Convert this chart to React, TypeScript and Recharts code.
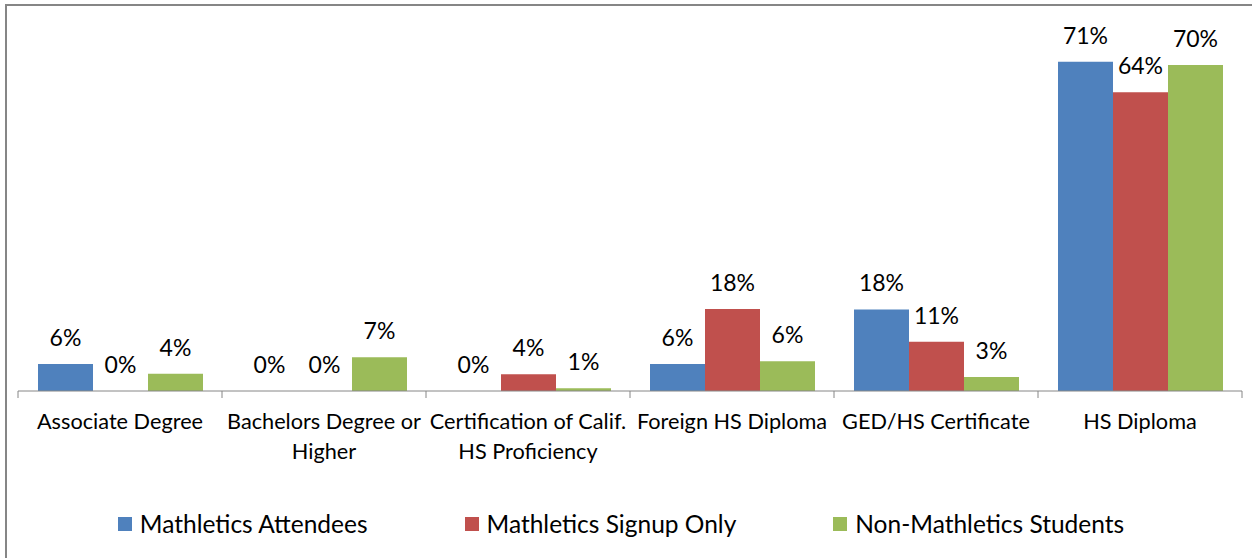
import React from "react";
import { BarChart, Bar, XAxis, YAxis, LabelList, Legend } from "recharts";

const categories = [
  "Associate Degree",
  "Bachelors Degree or Higher",
  "Certification of Calif. HS Proficiency",
  "Foreign HS Diploma",
  "GED/HS Certificate",
  "HS Diploma",
];

const tickLabelLines: string[][] = [
  ["Associate Degree"],
  ["Bachelors Degree or", "Higher"],
  ["Certification of Calif.", "HS Proficiency"],
  ["Foreign HS Diploma"],
  ["GED/HS Certificate"],
  ["HS Diploma"],
];

const seriesNames = ["Mathletics Attendees", "Mathletics Signup Only", "Non-Mathletics Students"];
const seriesColors = ["#4F81BD", "#C0504D", "#9BBB59"];

const attendees = [5.8, 0, 0, 5.8, 17.6, 71.0];
const signupOnly = [0, 0, 3.6, 17.7, 10.6, 64.4];
const nonMathletics = [3.7, 7.3, 0.6, 6.4, 3.0, 70.3];

const yDomain: [number, number] = [0, 80];

const data = categories.map((c, i) => ({
  category: c,
  s0: attendees[i],
  s1: signupOnly[i],
  s2: nonMathletics[i],
}));

const FONT = "Lato, 'Open Sans', sans-serif";
const AXIS_COLOR = "#868686";

const fmt = (v: any) => `${Math.round(Number(v))}%`;

const CategoryTick = (props: any) => {
  const { x, y, payload, index, visibleTicksCount } = props;
  const idx = payload?.index ?? index;
  const half = payload?.offset ?? 102;
  const lines = tickLabelLines[idx] || [String(payload?.value)];
  const isLast = visibleTicksCount ? idx === visibleTicksCount - 1 : idx === categories.length - 1;
  return (
    <g>
      <line x1={x - half} x2={x - half} y1={y} y2={y + 7} stroke={AXIS_COLOR} strokeWidth={1} />
      {isLast && <line x1={x + half} x2={x + half} y1={y} y2={y + 7} stroke={AXIS_COLOR} strokeWidth={1} />}
      <text x={x} y={y} textAnchor="middle" fontFamily={FONT} fontSize={21.7} fill="#000">
        {lines.map((l, i) => (
          <tspan key={i} x={x} dy={i === 0 ? 38 : 30}>
            {l}
          </tspan>
        ))}
      </text>
    </g>
  );
};

const LegendContent = () => (
  <div
    style={{
      height: 40,
      display: "flex",
      alignItems: "center",
      justifyContent: "center",
      fontFamily: FONT,
      fontSize: 24.5,
      color: "#000",
      gap: 97,
    }}
  >
    {seriesNames.map((n, i) => (
      <div key={n} style={{ display: "flex", alignItems: "center" }}>
        <span style={{ display: "inline-block", width: 14, height: 14, background: seriesColors[i], marginRight: 8 }} />
        <span style={{ lineHeight: "28px", whiteSpace: "nowrap" }}>{n}</span>
      </div>
    ))}
  </div>
);

const zeroMin = (v: any) => (Number(v) === 0 ? 0.001 : 0);

export default function App() {
  return (
    <div style={{ position: "absolute", left: 0, top: 0, width: 1252, height: 558, overflow: "hidden", background: "#fff" }}>
      <div
        style={{
          position: "absolute",
          left: 5,
          top: 4,
          width: 1300,
          height: 600,
          borderLeft: `2px solid ${AXIS_COLOR}`,
          borderTop: `2px solid ${AXIS_COLOR}`,
        }}
      />
      <div style={{ position: "absolute", left: 0, top: 0 }}>
        <BarChart
          width={1252}
          height={558}
          data={data}
          margin={{ top: 20, right: 10, left: 18, bottom: 14 }}
          barSize={55}
          barGap={0}
        >
          <XAxis
            dataKey="category"
            height={113}
            interval={0}
            tickSize={0}
            tickMargin={0}
            tickLine={false}
            axisLine={{ stroke: AXIS_COLOR, strokeWidth: 1 }}
            tick={<CategoryTick />}
          />
          <YAxis hide domain={yDomain} />
          <Legend
            verticalAlign="bottom"
            content={<LegendContent />}
            wrapperStyle={{ left: 0, width: 1242 }}
          />
          {["s0", "s1", "s2"].map((k, i) => (
            <Bar
              key={k}
              dataKey={k}
              name={seriesNames[i]}
              fill={seriesColors[i]}
              isAnimationActive={false}
              minPointSize={zeroMin as any}
            >
              <LabelList
                dataKey={k}
                position="top"
                offset={18}
                formatter={fmt}
                style={{ fontFamily: FONT, fontSize: 23, fill: "#000" }}
              />
            </Bar>
          ))}
        </BarChart>
      </div>
    </div>
  );
}
